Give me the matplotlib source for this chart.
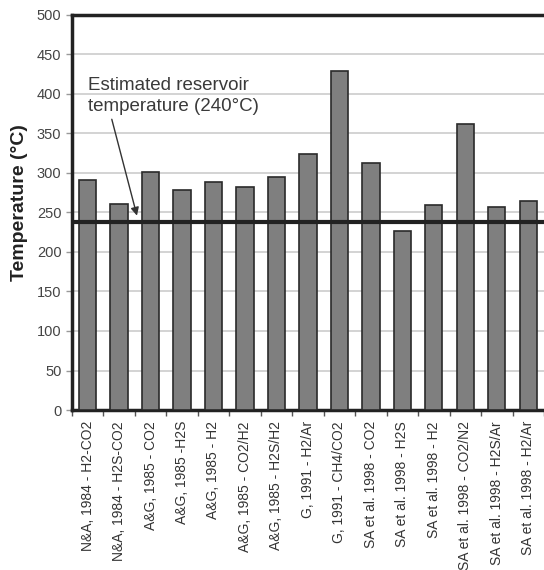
import numpy as np
import matplotlib
matplotlib.use("Agg")
from matplotlib import pyplot as plt

plt.rcParams['font.family'] = ['Liberation Sans', 'DejaVu Sans']

# Geothermometer estimates
labels = [
    "N&A, 1984 - H2-CO2",
    "N&A, 1984 - H2S-CO2",
    "A&G, 1985 - CO2",
    "A&G, 1985 -H2S",
    "A&G, 1985 - H2",
    "A&G, 1985 - CO2/H2",
    "A&G, 1985 - H2S/H2",
    "G, 1991 - H2/Ar",
    "G, 1991 - CH4/CO2",
    "SA et al. 1998 - CO2",
    "SA et al. 1998 - H2S",
    "SA et al. 1998 - H2",
    "SA et al. 1998 - CO2/N2",
    "SA et al. 1998 - H2S/Ar",
    "SA et al. 1998 - H2/Ar",
]
temps = [291, 261, 301, 278, 288, 282, 295, 324, 429, 313, 227, 259, 362, 257, 264]
reservoir_temp = 238

fig = plt.figure(figsize=(5.44, 5.70), dpi=100)
ax = fig.add_axes([0.132, 0.2807, 0.868, 0.693])

x = np.arange(len(temps))
ax.bar(x, temps, width=0.55, color='#7f7f7f', edgecolor='#2a2a2a', linewidth=1.2, zorder=3)
ax.axhline(reservoir_temp, color='#222222', linewidth=3, zorder=4)

ax.set_ylim(0, 500)
ax.set_xlim(-0.5, len(temps) - 0.5)
ax.set_yticks(range(0, 501, 50))
ax.yaxis.grid(True, color='#cccccc', linewidth=1.2, zorder=0)
ax.set_axisbelow(True)

ax.set_xticks(x)
ax.set_xticklabels(labels, rotation=90, fontsize=10, color='#333333')
ax.set_xticks(np.arange(-0.5, len(temps), 1), minor=True)
ax.tick_params(axis='x', which='major', length=0, pad=8)
ax.tick_params(axis='x', which='minor', length=4, color='#555555', width=1)
ax.tick_params(axis='y', labelsize=10.5, labelcolor='#444444', length=4, width=1, color='#999999')

for s in ['left', 'top', 'bottom']:
    ax.spines[s].set_linewidth(2.5)
    ax.spines[s].set_color('#222222')
ax.spines['right'].set_visible(False)

ax.set_ylabel('Temperature (°C)', fontsize=14, fontweight='bold', color='#222222')
ax.yaxis.set_label_coords(-0.092, 0.524)

ax.text(0.01, 379, 'Estimated reservoir\ntemperature (240°C)', fontsize=13.5,
        color='#3a3a3a', ha='left', va='baseline', linespacing=1.25, zorder=5)
ax.annotate('', xy=(1.57, 246), xytext=(0.77, 368),
            arrowprops=dict(arrowstyle='-|>', color='#333333', lw=1,
                            mutation_scale=12, shrinkA=0, shrinkB=0),
            zorder=5)

fig.savefig('out.png', dpi=100)
